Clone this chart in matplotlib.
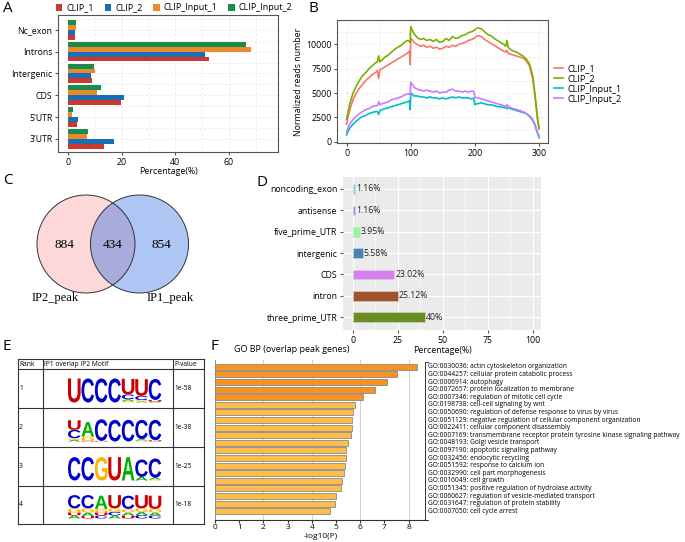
import matplotlib
matplotlib.use('Agg')
import matplotlib.pyplot as plt
import numpy as np
from matplotlib.textpath import TextPath
from matplotlib.font_manager import FontProperties
from matplotlib.patches import PathPatch, Circle
from matplotlib.transforms import Affine2D, blended_transform_factory

plt.rcParams['font.family'] = ['Open Sans', 'DejaVu Sans']

# ---------------- data ----------------
# A: genomic distribution (bottom -> top)
a_cats = ["3'UTR", "5'UTR", 'CDS', 'Intergenic', 'Introns', 'Nc_exon']
a_names = ['CLIP_1', 'CLIP_2', 'CLIP_Input_1', 'CLIP_Input_2']
a_clip1 = [13.3, 3.4, 19.7, 8.8, 52.5, 2.5]
a_clip2 = [17.0, 3.8, 20.8, 8.4, 51.0, 2.5]
a_input1 = [7.1, 1.5, 10.9, 10.0, 68.1, 2.9]
a_input2 = [7.5, 1.9, 12.1, 9.6, 66.2, 2.9]

# B: metagene profile
b_x = [0, 2, 5, 10, 15, 20, 25, 30, 35, 40, 45, 48, 50, 52, 55, 60, 65, 70, 75, 80,
       85, 90, 95, 98, 99, 100, 102, 105, 110, 115, 120, 125, 130, 135, 140, 145, 150,
       155, 160, 165, 170, 175, 180, 185, 190, 195, 198, 200, 202, 205, 210, 215, 220,
       225, 230, 235, 240, 245, 248, 250, 252, 255, 260, 265, 270, 275, 280, 285, 290,
       293, 296, 298, 300]
b_clip1 = [1800, 2500, 3300, 4300, 5000, 5500, 5900, 6300, 6600, 6900, 7100, 7300, 6500, 7400,
           7500, 7700, 7900, 8100, 8300, 8500, 8700, 8900, 9100, 9300, 7900, 10600, 10500,
           10200, 10000, 9800, 9900, 9700, 9800, 9600, 9700, 9500, 9600, 9800, 9700, 9900,
           9800, 10000, 10100, 10200, 10400, 10500, 10600, 10700, 10800, 10900, 10800, 10500,
           10300, 10100, 9900, 9700, 9500, 9300, 9200, 9400, 9100, 9000, 8900, 8800, 8700,
           8600, 8300, 7800, 6500, 5000, 3300, 2100, 1300]
b_clip2 = [2300, 3000, 3900, 5000, 5700, 6300, 6800, 7100, 7500, 7800, 8100, 8200, 8800, 8200,
           8400, 8700, 8900, 9200, 9500, 9700, 9900, 10200, 10400, 10300, 10200, 11800, 11500,
           11100, 10700, 10500, 10600, 10400, 10500, 10300, 10500, 10200, 10300, 10600, 10400,
           10800, 10600, 10700, 10900, 11000, 11200, 11300, 11400, 11500, 11600, 11700, 11600,
           11300, 11000, 10900, 10600, 10400, 10200, 10000, 9800, 10400, 9700, 9500, 9300,
           9200, 9000, 8800, 8500, 8000, 6800, 5300, 3500, 2200, 1400]
b_input1 = [700, 1000, 1400, 1800, 2100, 2400, 2600, 2700, 2900, 3000, 3100, 3100, 2800, 3200,
            3300, 3400, 3500, 3600, 3700, 3800, 3900, 4000, 4100, 4200, 3300, 5000, 4900, 4700,
            4700, 4600, 4600, 4500, 4600, 4500, 4500, 4400, 4500, 4400, 4500, 4600, 4500, 4600,
            4500, 4500, 4500, 4400, 4500, 3800, 3900, 3900, 4000, 3900, 3800, 3800, 3700, 3600,
            3600, 3500, 3500, 3400, 3500, 3400, 3300, 3200, 3100, 3000, 2900, 2600, 2200, 1800,
            1200, 800, 400]
b_input2 = [1000, 1400, 1800, 2300, 2600, 2900, 3100, 3300, 3400, 3600, 3700, 3700, 4100, 3800,
            3900, 4000, 4100, 4300, 4400, 4500, 4600, 4800, 4900, 4900, 4800, 6100, 5900, 5600,
            5400, 5300, 5200, 5300, 5200, 5100, 5200, 5000, 5100, 5100, 5300, 5400, 5200, 5200,
            5100, 5200, 5100, 5200, 5200, 4600, 4500, 4500, 4400, 4300, 4200, 4100, 4000, 3900,
            3800, 3700, 3600, 3800, 3600, 3500, 3400, 3300, 3200, 3100, 2900, 2700, 2300, 1900,
            1300, 900, 600]

# C: Venn counts
venn_only_ip2 = 884
venn_both = 434
venn_only_ip1 = 854

# D: peak annotation (bottom -> top)
d_cats = ['three_prime_UTR', 'intron', 'CDS', 'intergenic', 'five_prime_UTR', 'antisense', 'noncoding_exon']
d_vals = [40, 25.12, 23.02, 5.58, 3.95, 1.16, 1.16]
d_labels = ['40%', '25.12%', '23.02%', '5.58%', '3.95%', '1.16%', '1.16%']

# E: motifs, each position stacked bottom -> top as (letter, bits)
e_ranks = ['1', '2', '3', '4']
e_pvals = ['1e-58', '1e-38', '1e-25', '1e-18']
e_motifs = [
    [[('U', 2.0)], [('C', 2.0)], [('C', 2.0)], [('C', 2.0)],
     [('G', 0.12), ('A', 0.15), ('C', 0.4), ('U', 1.3)],
     [('A', 0.1), ('G', 0.1), ('C', 0.35), ('U', 1.4)],
     [('A', 0.06), ('U', 0.15), ('C', 1.75)]],
    [[('A', 0.15), ('G', 0.12), ('C', 0.7), ('U', 0.8)],
     [('U', 0.06), ('G', 0.35), ('A', 1.2)],
     [('U', 0.05), ('C', 1.8)], [('C', 1.8)], [('C', 1.8)],
     [('G', 0.08), ('A', 0.12), ('C', 1.6)],
     [('U', 0.1), ('C', 1.7)]],
    [[('C', 1.95)], [('C', 1.95)], [('G', 1.95)], [('U', 1.95)], [('A', 1.95)],
     [('A', 0.3), ('C', 1.45)],
     [('G', 0.08), ('A', 0.15), ('C', 1.6)]],
    [[('A', 0.25), ('U', 0.25), ('G', 0.35), ('C', 1.1)],
     [('U', 0.2), ('A', 0.3), ('G', 0.35), ('C', 1.1)],
     [('C', 0.25), ('U', 0.25), ('G', 0.3), ('A', 1.1)],
     [('A', 0.25), ('C', 0.3), ('G', 0.3), ('U', 1.1)],
     [('U', 0.25), ('A', 0.25), ('G', 0.3), ('C', 1.1)],
     [('C', 0.3), ('A', 0.25), ('G', 0.3), ('U', 1.1)],
     [('C', 0.25), ('A', 0.25), ('G', 0.3), ('U', 1.1)]],
]

# F: GO enrichment (top -> bottom)
f_terms = ['GO:0030036: actin cytoskeleton organization',
           'GO:0044257: cellular protein catabolic process',
           'GO:0006914: autophagy',
           'GO:0072657: protein localization to membrane',
           'GO:0007346: regulation of mitotic cell cycle',
           'GO:0198738: cell-cell signaling by wnt',
           'GO:0050690: regulation of defense response to virus by virus',
           'GO:0051129: negative regulation of cellular component organization',
           'GO:0022411: cellular component disassembly',
           'GO:0007169: transmembrane receptor protein tyrosine kinase signaling pathway',
           'GO:0048193: Golgi vesicle transport',
           'GO:0097190: apoptotic signaling pathway',
           'GO:0032456: endocytic recycling',
           'GO:0051592: response to calcium ion',
           'GO:0032990: cell part morphogenesis',
           'GO:0016049: cell growth',
           'GO:0051345: positive regulation of hydrolase activity',
           'GO:0060627: regulation of vesicle-mediated transport',
           'GO:0031647: regulation of protein stability',
           'GO:0007050: cell cycle arrest']
f_vals = [8.34, 7.52, 7.10, 6.62, 6.11, 5.77, 5.72, 5.66, 5.66, 5.61,
          5.48, 5.41, 5.41, 5.39, 5.32, 5.24, 5.19, 4.99, 4.95, 4.77]

# ---------------- figure ----------------
W, H = 685, 542


def rect(l, t, r, b):
    return [l / W, 1 - b / H, (r - l) / W, (b - t) / H]


def fig_txt(x, y, s, **kw):
    fig.text(x / W, 1 - y / H, s, **kw)


fig = plt.figure(figsize=(6.85, 5.42), dpi=100)
fs = 6.3
grey = '#555555'

for lab, x, y in [('A', 3, 8), ('B', 308, 8), ('C', 3, 181), ('D', 257, 183), ('E', 3, 347), ('F', 210, 346)]:
    fig_txt(x, y, lab, fontsize=11, va='center', ha='left')

# ---- A ----
axA = fig.add_axes(rect(58, 15, 278, 152))
a_colors = ['#c8392e', '#1b6db5', '#e98b2a', '#1b8a4f']
bh = 0.225
yA = np.arange(len(a_cats))
for k, (vals, col, name) in enumerate(zip([a_clip1, a_clip2, a_input1, a_input2], a_colors, a_names)):
    axA.barh(yA + (k - 1.5) * bh, vals, height=bh, color=col, label=name, zorder=3)
axA.set_yticks(yA)
axA.set_yticklabels(a_cats, fontsize=fs)
axA.set_yticks(yA + 0.5, minor=True)
axA.set_xticks([0, 20, 40, 60])
axA.set_xticks([10, 30, 50, 70], minor=True)
axA.tick_params(axis='x', labelsize=fs, color=grey, length=2.5, pad=1.5)
axA.tick_params(axis='y', color=grey, length=2.5, pad=1.5)
axA.tick_params(which='minor', length=0)
axA.grid(True, which='both', ls=(0, (3, 3)), color='#e3e3e3', lw=0.5)
axA.set_axisbelow(True)
axA.set_xlim(-3.8, 78.3)
axA.set_ylim(-0.6, 5.68)
axA.set_xlabel('Percentage(%)', fontsize=fs, labelpad=0)
for s in axA.spines.values():
    s.set_color(grey)
    s.set_linewidth(0.8)
fig.legend(loc='center left', bbox_to_anchor=(56 / W, 1 - 8 / H), ncol=4, frameon=False,
           fontsize=6.5, handlelength=0.7, handleheight=0.7, handletextpad=0.45,
           columnspacing=1.2, borderaxespad=0, borderpad=0)

# ---- B ----
axB = fig.add_axes(rect(337, 20, 548, 143))
b_colors = ['#F8766D', '#7CAE00', '#00BFC4', '#C77CFF']
for vals, col, name in zip([b_clip1, b_clip2, b_input1, b_input2], b_colors,
                           ['CLIP_1', 'CLIP_2', 'CLIP_Input_1', 'CLIP_Input_2']):
    axB.plot(b_x, vals, color=col, lw=1.2, label=name)
axB.set_xlim(-15, 314)
axB.set_ylim(-130, 12500)
axB.set_xticks([0, 100, 200, 300])
axB.set_xticks([50, 150, 250], minor=True)
axB.set_yticks([0, 2500, 5000, 7500, 10000])
axB.set_yticks([1250, 3750, 6250, 8750, 11250], minor=True)
axB.tick_params(labelsize=fs, color=grey, length=2.5, pad=1.5)
axB.tick_params(which='minor', length=0)
axB.grid(True, which='both', ls=(0, (3, 3)), color='#e3e3e3', lw=0.5)
axB.set_ylabel('Normalized reads number', fontsize=fs, labelpad=2)
for s in axB.spines.values():
    s.set_color(grey)
    s.set_linewidth(0.8)
axB.legend(loc='center left', bbox_to_anchor=(554 / W, 1 - 84 / H), bbox_transform=fig.transFigure,
           frameon=False, fontsize=6.6, handlelength=1.0, handletextpad=0.5, labelspacing=0.12,
           borderaxespad=0, borderpad=0)

# ---- C ----
axC = fig.add_axes(rect(0, 175, 215, 330))
axC.set_xlim(0, 215)
axC.set_ylim(330, 175)
axC.axis('off')
left_c = Circle((86, 244), 49, fc='#fcd9d8', ec='none')
right_c = Circle((139.5, 244), 49, fc='#aec6f4', ec='none')
axC.add_patch(left_c)
axC.add_patch(right_c)
ov = Circle((86, 244), 49, fc='#a8acdc', ec='none')
axC.add_patch(ov)
ov.set_clip_path(right_c)
axC.add_patch(Circle((86, 244), 49, fc='none', ec='#333333', lw=0.7))
axC.add_patch(Circle((139.5, 244), 49, fc='none', ec='#333333', lw=0.7))
serif = ['Liberation Serif', 'DejaVu Serif']
for xx, v in [(64, venn_only_ip2), (113, venn_both), (161, venn_only_ip1)]:
    axC.text(xx, 245, str(v), ha='center', va='center', fontsize=9.5, family=serif)
axC.text(55, 298, 'IP2_peak', ha='center', va='center', fontsize=9, family=serif)
axC.text(170, 298, 'IP1_peak', ha='center', va='center', fontsize=9, family=serif)

# ---- D ----
axD = fig.add_axes(rect(343, 177, 541, 330))
d_colors = ['#6b8e23', '#a0522d', '#d580ee', '#4682b4', '#98f598', '#7b9ee8', '#87ceeb']
yD = np.arange(len(d_cats))
axD.barh(yD, d_vals, height=0.45, color=d_colors, edgecolor='#d8d8d8', lw=0.4, zorder=3)
for y, v, t in zip(yD, d_vals, d_labels):
    axD.text(v + 0.6, y, t, va='center', ha='left', fontsize=fs, color='#222222', zorder=4)
axD.set_facecolor('#ebebeb')
axD.set_xlim(-5.4, 104.6)
axD.set_ylim(-0.6, 6.56)
axD.set_xticks([0, 25, 50, 75, 100])
axD.set_xticks([12.5, 37.5, 62.5, 87.5], minor=True)
axD.set_yticks(yD)
axD.set_yticklabels(d_cats, fontsize=fs)
axD.tick_params(labelsize=fs, color=grey, length=2.5, pad=1.5)
axD.tick_params(which='minor', length=0)
axD.grid(True, which='major', color='white', lw=0.8)
axD.grid(True, which='minor', axis='x', color='white', lw=0.4)
axD.set_axisbelow(True)
for s in axD.spines.values():
    s.set_visible(False)
axD.set_xlabel('Percentage(%)', fontsize=fs, labelpad=1)

# ---- E ----
axE = fig.add_axes(rect(0, 330, 210, 542))
axE.set_xlim(0, 210)
axE.set_ylim(0, 212)
axE.axis('off')


def ey(py):
    return 542 - py


col_x = [18, 43, 173, 204]
row_y = [359, 369, 408, 447, 486, 524]
for xx in col_x:
    axE.plot([xx, xx], [ey(row_y[0]), ey(row_y[-1])], color='#333333', lw=0.8)
for yy in row_y:
    axE.plot([col_x[0], col_x[-1]], [ey(yy), ey(yy)], color='#333333', lw=0.8)
hfs = 4.8
axE.text(19, ey(364), 'Rank', fontsize=hfs, va='center')
axE.text(44, ey(364), 'IP1 overlap IP2 Motif', fontsize=hfs, va='center')
axE.text(174, ey(364), 'P-value', fontsize=hfs, va='center')

letter_colors = {'U': '#cc0000', 'C': '#0000cc', 'G': '#ffb300', 'A': '#00b000'}
lfp = FontProperties(family='Liberation Sans', weight='bold')


def draw_letter(ax, ch, x, y, w, h, color):
    tp = TextPath((0, 0), ch, size=1, prop=lfp)
    bb = tp.get_extents()
    tr = Affine2D().translate(-bb.x0, -bb.y0).scale(w / bb.width, h / bb.height).translate(x, y)
    ax.add_patch(PathPatch(tr.transform_path(tp), fc=color, ec='none', lw=0))


px_per_bit = 12.0
for r, motif in enumerate(e_motifs):
    top, bot = row_y[r + 1], row_y[r + 2]
    mid = (top + bot) / 2
    axE.text(19, ey(mid), e_ranks[r], fontsize=hfs, va='center')
    axE.text(174, ey(mid), e_pvals[r], fontsize=hfs, va='center')
    base = ey(bot - 5.5)
    for p, stack in enumerate(motif):
        x0 = 68 + p * 13.45
        y0 = base
        for ch, bits in stack:
            h = bits * px_per_bit
            draw_letter(axE, ch, x0, y0, 12.6, h, letter_colors[ch])
            y0 += h

# ---- F ----
axF = fig.add_axes(rect(215, 360, 426, 520))
yF = np.arange(len(f_vals))
f_colors = ['#f7931e'] * 5 + ['#fdbd48'] * (len(f_vals) - 5)
axF.barh(yF, f_vals, height=0.8, color=f_colors, edgecolor='#8a8a8a', lw=0.6, zorder=3)
axF.set_ylim(20.15, -0.9)
axF.set_xlim(0, 8.72)
axF.set_xticks(range(9))
axF.set_yticks([])
for gx in [2, 4, 6, 8]:
    axF.axvline(gx, color='#d0d0d0', lw=0.7, zorder=0)
axF.spines['top'].set_visible(False)
axF.spines['right'].set_visible(False)
axF.spines['left'].set_color('#999999')
axF.spines['bottom'].set_color('#333333')
axF.tick_params(axis='x', labelsize=6, length=2, pad=1, color='#333333')
axF.set_xlabel('-log10(P)', fontsize=6, labelpad=1)
axF.set_title('GO BP (overlap peak genes)', fontsize=6.5, loc='left', x=0.09, pad=6)
bt = blended_transform_factory(fig.transFigure, axF.transData)
for y, t in zip(yF, f_terms):
    axF.text(427.5 / W, y, t, transform=bt, fontsize=4.75, va='center', ha='left')
bx = 425 / W
axF.plot([bx + 3 / W, bx, bx, bx + 3 / W], [-0.7, -0.7, 20.1, 20.1], transform=bt,
         color='#333333', lw=0.7, clip_on=False)

fig.savefig('out.png', dpi=100)
